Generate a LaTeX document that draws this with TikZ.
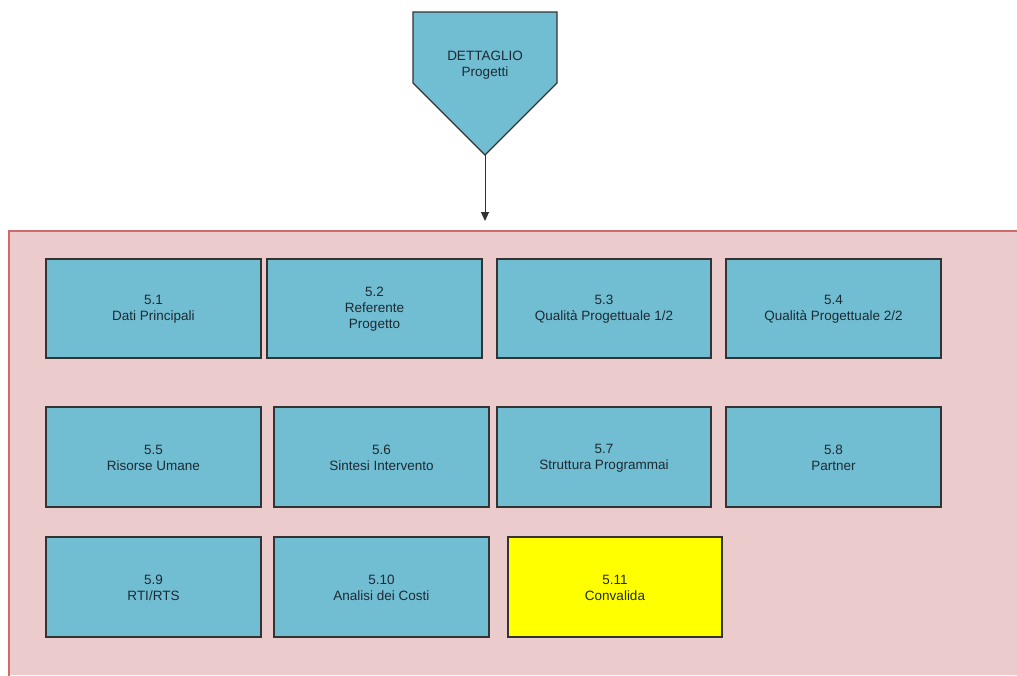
\documentclass[tikz,border=0pt]{standalone}
\usepackage{fontspec}
\setmainfont{Liberation Sans}
\usetikzlibrary{arrows.meta}
\definecolor{boxblue}{HTML}{71BDD2}
\definecolor{pinkbg}{HTML}{EBCBCB}
\definecolor{pinkline}{HTML}{D06A6A}
\definecolor{txt}{HTML}{1E2A33}
\definecolor{yel}{RGB}{255,255,0}
\begin{document}
\begin{tikzpicture}[x=1pt,y=-1pt,
  card/.style={draw=black!80,line width=1.2pt,fill=boxblue},
  lbl/.style={align=center,text=txt,font=\fontsize{13.5}{16}\selectfont},
]
\useasboundingbox (0,0) rectangle (1017,675);
\fill[white] (0,0) rectangle (1017,675);
\fill[pinkbg] (9,231) rectangle (1017,675);
\draw[pinkline,line width=1.5pt] (9,677) -- (9,231) -- (1018,231);
% pentagon
\draw[draw=black!80,line width=1.2pt,fill=boxblue] (413,12) -- (557,12) -- (557,83) -- (485,155) -- (413,83) -- cycle;
\coordinate (tip) at (485,155);
\node[lbl] (det) at (485,65) {DETTAGLIO\\Progetti};
\coordinate (arrend) at (485,221);
\draw[black!80,line width=1pt,-{Triangle[length=9pt,width=8pt]}] (tip) -- (arrend);
% cards
\newcommand{\card}[6]{\path[card] (#1,#2) rectangle (#3,#4); \node[lbl] (#5) at ({(#1+#3)/2},{(#2+#4)/2+1}) {#6};}
\card{46}{259}{261}{358}{c1}{5.1\\Dati Principali}
\card{267}{259}{482}{358}{c2}{5.2\\Referente\\Progetto}
\card{497}{259}{711}{358}{c3}{5.3\\Qualità Progettuale 1/2}
\card{726}{259}{941}{358}{c4}{5.4\\Qualità Progettuale 2/2}
\card{46}{407}{261}{507}{c5}{5.5\\Risorse Umane}
\card{274}{407}{489}{507}{c6}{5.6\\Sintesi Intervento}
\card{497}{407}{711}{507}{c7}{5.7\\Struttura Programmai}
\card{726}{407}{941}{507}{c8}{5.8\\Partner}
\card{46}{537}{261}{637}{c9}{5.9\\RTI/RTS}
\card{274}{537}{489}{637}{c10}{5.10\\Analisi dei Costi}
\path[card,fill=yel] (508,537) rectangle (722,637);
\node[lbl] (c11) at (615,588) {5.11\\Convalida};
\end{tikzpicture}
\end{document}
